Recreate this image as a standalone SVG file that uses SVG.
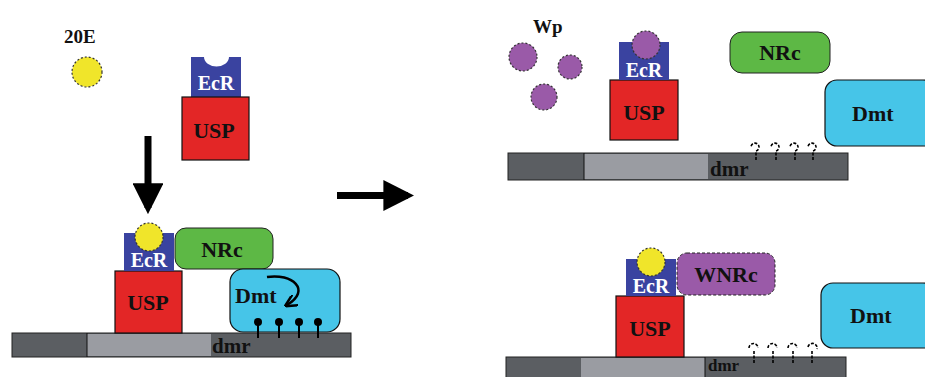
<svg xmlns="http://www.w3.org/2000/svg" width="925" height="377" viewBox="0 0 925 377">
  <defs>
    <style>
      text { font-family: "Liberation Serif", "Times New Roman", serif; font-weight: bold; }
      .lbl { font-size: 22px; fill: #111; }
      .small { font-size: 19px; fill: #111; }
      .ecr { font-size: 20px; fill: #fff; }
      .dmr { font-size: 21px; fill: #111; }
      .dmr-low { font-size: 17px; fill: #111; }
      .ecrbox { fill: #3a43a0; }
      .usp { fill: #e32626; stroke: #111; stroke-width: 1.2; }
      .hormone { fill: #f0e52a; stroke: #333; stroke-width: 1.2; stroke-dasharray: 2 2; }
      .wp { fill: #9a5aa8; stroke: #333; stroke-width: 1.2; stroke-dasharray: 2 2; }
      .nrc { fill: #5db845; stroke: #222; stroke-width: 1; }
      .wnrc { fill: #9a5aa8; stroke: #222; stroke-width: 1; stroke-dasharray: 3 2; }
      .dmt { fill: #46c5e8; stroke: #111; stroke-width: 1.2; }
      .dark { fill: #5b5e62; stroke: #222; stroke-width: 1; }
      .light { fill: #9a9ca2; }
      .pin { stroke: #000; stroke-width: 2; fill: none; }
      .open { stroke: #000; stroke-width: 1.6; fill: none; stroke-dasharray: 3 1.5; }
      .arrow { stroke: #000; stroke-width: 7; fill: none; }
    </style>
    <marker id="head" viewBox="0 0 10 10" refX="8" refY="5" markerWidth="4.4" markerHeight="4.4" orient="auto">
      <path d="M0,0 L10,5 L0,10 Z" fill="#000"/>
    </marker>
    <marker id="curl" viewBox="0 0 10 10" refX="8" refY="5" markerWidth="5" markerHeight="5" orient="auto">
      <path d="M0,0 L10,5 L0,10" fill="none" stroke="#000" stroke-width="2"/>
    </marker>
  </defs>

  <!-- free ecdysone -->
  <g id="hormone-free">
    <text class="small" x="64" y="43">20E</text>
    <circle class="hormone" cx="87" cy="72" r="15"/>
  </g>

  <!-- unbound receptor complex -->
  <g id="ecr-free">
    <path class="ecrbox" d="M191,57 H204 A12,9 0 0 0 229,57 H241 V97 H191 Z"/>
    <text class="ecr" x="216" y="90" text-anchor="middle">EcR</text>
  </g>
  <g id="usp-free">
    <rect class="usp" x="182" y="97" width="67" height="63"/>
    <text class="lbl" x="214" y="138" text-anchor="middle">USP</text>
  </g>

  <!-- connectors -->
  <g id="connectors">
    <path class="arrow" d="M148,136 V208" marker-end="url(#head)"/>
    <path class="arrow" d="M337,195.5 H408" marker-end="url(#head)"/>
  </g>

  <!-- bound state, bottom left -->
  <g id="dna-left">
    <rect class="dark" x="12" y="333" width="339" height="24"/>
    <rect class="light" x="87" y="334" width="124" height="22"/>
    <line x1="87" y1="333" x2="87" y2="357" stroke="#111" stroke-width="1"/>
    <text class="dmr" x="212" y="353">dmr</text>
  </g>
  <g id="usp-left">
    <rect class="usp" x="115" y="271" width="67" height="62"/>
    <text class="lbl" x="148" y="310" text-anchor="middle">USP</text>
  </g>
  <g id="ecr-left">
    <rect class="ecrbox" x="124" y="233" width="50" height="38"/>
    <text class="ecr" x="149" y="267" text-anchor="middle">EcR</text>
    <circle class="hormone" cx="149" cy="237" r="14"/>
  </g>
  <g id="nrc-left">
    <rect class="nrc" x="175" y="228" width="98" height="41" rx="11"/>
    <text class="lbl" x="222" y="257" text-anchor="middle">NRc</text>
  </g>
  <g id="dmt-left">
    <rect class="dmt" x="230" y="269" width="110" height="63" rx="13"/>
    <text class="lbl" x="235" y="303">Dmt</text>
    <path d="M267,277 C292,273 312,290 287,305" stroke="#000" stroke-width="2.5" fill="none" marker-end="url(#curl)"/>
    <g class="pin">
      <line x1="258" y1="322" x2="258" y2="338"/>
      <line x1="279" y1="322" x2="279" y2="338"/>
      <line x1="299" y1="322" x2="299" y2="338"/>
      <line x1="318" y1="322" x2="318" y2="338"/>
    </g>
    <g fill="#000">
      <circle cx="258" cy="322" r="4"/>
      <circle cx="279" cy="322" r="4"/>
      <circle cx="299" cy="322" r="4"/>
      <circle cx="318" cy="322" r="4"/>
    </g>
  </g>

  <!-- Wp-bound state, top right -->
  <g id="wp">
    <text class="small" x="533" y="33">Wp</text>
    <circle class="wp" cx="523" cy="57" r="14"/>
    <circle class="wp" cx="570" cy="67" r="12"/>
    <circle class="wp" cx="544" cy="97" r="13"/>
  </g>
  <g id="dna-top">
    <rect class="dark" x="508" y="153" width="340" height="27"/>
    <rect class="light" x="584" y="154" width="124" height="25"/>
    <line x1="584" y1="153" x2="584" y2="180" stroke="#111" stroke-width="1"/>
    <text class="dmr" x="710" y="176">dmr</text>
    <g class="open">
      <path d="M756,160 V151 a4,4 0 1 0 -5,-4"/>
      <path d="M776,160 V151 a4,4 0 1 0 -5,-4"/>
      <path d="M795,160 V151 a4,4 0 1 0 -5,-4"/>
      <path d="M813,160 V151 a4,4 0 1 0 -5,-4"/>
    </g>
  </g>
  <g id="usp-top">
    <rect class="usp" x="610" y="80" width="68" height="60"/>
    <text class="lbl" x="644" y="120" text-anchor="middle">USP</text>
  </g>
  <g id="ecr-top">
    <rect class="ecrbox" x="619" y="42" width="50" height="38"/>
    <text class="ecr" x="644" y="77" text-anchor="middle">EcR</text>
    <circle class="wp" cx="646" cy="45" r="14"/>
  </g>
  <g id="nrc-top">
    <rect class="nrc" x="730" y="32" width="100" height="41" rx="12"/>
    <text class="lbl" x="780" y="60" text-anchor="middle">NRc</text>
  </g>
  <g id="dmt-top">
    <rect class="dmt" x="825" y="80" width="110" height="66" rx="12"/>
    <text class="lbl" x="852" y="121">Dmt</text>
  </g>

  <!-- WNRc-bound state, bottom right -->
  <g id="dna-bottom">
    <rect class="dark" x="506" y="357" width="340" height="25"/>
    <rect class="light" x="581" y="358" width="124" height="24"/>
    <line x1="705" y1="357" x2="705" y2="377" stroke="#111" stroke-width="1"/>
    <text class="dmr-low" x="708" y="371">dmr</text>
    <g class="open">
      <path d="M754,363 V351 M749,348 a4.5,4.5 0 0 1 9,0"/>
      <path d="M773,363 V351 M768,348 a4.5,4.5 0 0 1 9,0"/>
      <path d="M793,363 V351 M788,348 a4.5,4.5 0 0 1 9,0"/>
      <path d="M812,363 V351 M808,347 a4.5,4.5 0 0 1 9,2"/>
    </g>
  </g>
  <g id="usp-bottom">
    <rect class="usp" x="616" y="296" width="68" height="61"/>
    <text class="lbl" x="650" y="336" text-anchor="middle">USP</text>
  </g>
  <g id="ecr-bottom">
    <rect class="ecrbox" x="626" y="259" width="50" height="37"/>
    <text class="ecr" x="651" y="293" text-anchor="middle">EcR</text>
    <circle class="hormone" cx="651" cy="262" r="14"/>
  </g>
  <g id="wnrc-bottom">
    <rect class="wnrc" x="677" y="253" width="98" height="42" rx="10"/>
    <text class="lbl" x="726" y="282" text-anchor="middle">WNRc</text>
  </g>
  <g id="dmt-bottom">
    <rect class="dmt" x="821" y="283" width="114" height="65" rx="12"/>
    <text class="lbl" x="850" y="323">Dmt</text>
  </g>
</svg>
